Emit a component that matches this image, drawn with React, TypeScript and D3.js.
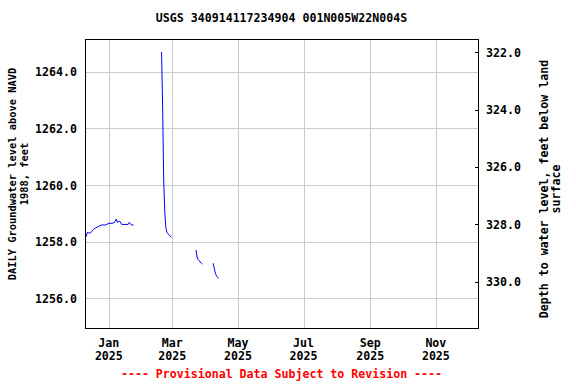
import React from "react";
import * as d3 from "d3";

const titleText = "USGS 340914117234904 001N005W22N004S";
const footerText = "---- Provisional Data Subject to Revision ----";
const leftTitle1 = "DAILY Groundwater level above NAVD";
const leftTitle2 = "1988, feet";
const rightTitle1 = "Depth to water level, feet below land";
const rightTitle2 = "surface";

const leftTicks = [1256, 1258, 1260, 1262, 1264];
const rightTicks = [322, 324, 326, 328, 330];
const monthTicks = ["2025-01-01", "2025-03-01", "2025-05-01", "2025-07-01", "2025-09-01", "2025-11-01"];
const monthLabels = ["Jan", "Mar", "May", "Jul", "Sep", "Nov"];
const yearLabels = ["2025", "2025", "2025", "2025", "2025", "2025"];

const seg1Dates = ["2024-12-11", "2024-12-12", "2024-12-14", "2024-12-16", "2024-12-17", "2024-12-19", "2024-12-22", "2024-12-25", "2024-12-29", "2025-01-01", "2025-01-04", "2025-01-06", "2025-01-08", "2025-01-09", "2025-01-11", "2025-01-13", "2025-01-16", "2025-01-19", "2025-01-20", "2025-01-22", "2025-01-24"];
const seg1Levels = [1258.18, 1258.33, 1258.30, 1258.35, 1258.41, 1258.47, 1258.53, 1258.59, 1258.59, 1258.65, 1258.65, 1258.67, 1258.80, 1258.68, 1258.73, 1258.61, 1258.61, 1258.61, 1258.68, 1258.59, 1258.59];

const seg2Dates = ["2025-02-19", "2025-02-20", "2025-02-21", "2025-02-22", "2025-02-23", "2025-02-24", "2025-02-25", "2025-02-26", "2025-02-27", "2025-02-28"];
const seg2Levels = [1264.70, 1262.75, 1260.15, 1259.05, 1258.50, 1258.33, 1258.28, 1258.24, 1258.20, 1258.15];

const seg3Dates = ["2025-03-23", "2025-03-24", "2025-03-25", "2025-03-26", "2025-03-27", "2025-03-28", "2025-03-29"];
const seg3Levels = [1257.71, 1257.46, 1257.37, 1257.33, 1257.28, 1257.24, 1257.21];

const seg4Dates = ["2025-04-08", "2025-04-09", "2025-04-10", "2025-04-11", "2025-04-12", "2025-04-13"];
const seg4Levels = [1257.24, 1257.05, 1256.89, 1256.80, 1256.75, 1256.70];

const segments = [
  [seg1Dates, seg1Levels],
  [seg2Dates, seg2Levels],
  [seg3Dates, seg3Levels],
  [seg4Dates, seg4Levels],
];

const W = 576;
const H = 384;
const L = 85;
const R = 478;
const T = 39;
const B = 328;
const FONT = "'DejaVu Sans Mono', 'Liberation Mono', monospace";
const FS = 11.6;

const parse = (s: string) => {
  const [y, m, d] = s.split("-").map(Number);
  return new Date(y, m - 1, d, 12);
};

export default function App() {
  const x = d3
    .scaleTime()
    .domain([new Date(2024, 11, 10, 8), new Date(2025, 11, 10, 16)])
    .range([L, R]);
  const yL = d3.scaleLinear().domain([1254.954, 1265.154]).range([B, T]);
  const yR = d3.scaleLinear().domain([321.536, 331.615]).range([T, B]);

  const line = d3
    .line<[Date, number]>()
    .x((d) => x(d[0]))
    .y((d) => yL(d[1]));

  const cx = (L + R) / 2;
  const cy = 174;
  const cyR = 189;

  return (
    <svg
      width={W}
      height={H}
      style={{ position: "absolute", left: 0, top: 0, background: "#fff" }}
      fontFamily={FONT}
      fontWeight="bold"
      fontSize={FS}
    >
      <rect x={0} y={0} width={W} height={H} fill="#fff" />
      <text x={cx} y={22} textAnchor="middle" fill="#000">
        {titleText}
      </text>
      <g stroke="#cccccc" strokeWidth={1} shapeRendering="crispEdges">
        {leftTicks.map((t) => (
          <line key={"h" + t} x1={L} x2={R} y1={Math.round(yL(t)) + 0.5} y2={Math.round(yL(t)) + 0.5} />
        ))}
        {monthTicks.map((m) => (
          <line key={"v" + m} x1={Math.round(x(parse(m))) + 0.5} x2={Math.round(x(parse(m))) + 0.5} y1={T} y2={B} />
        ))}
      </g>
      <g fill="none" stroke="#0000ff" strokeWidth={1}>
        {segments.map(([ds, vs], i) => {
          const pts = (ds as string[]).map((d, j) => [parse(d), (vs as number[])[j]] as [Date, number]);
          return <path key={i} d={line(pts) || ""} />;
        })}
      </g>
      <rect x={L + 0.5} y={T + 0.5} width={R - L} height={B - T} fill="none" stroke="#000" strokeWidth={1} shapeRendering="crispEdges" />
      <g stroke="#000" strokeWidth={1} shapeRendering="crispEdges">
        {rightTicks.map((t) => (
          <line key={"rt" + t} x1={R - 3} x2={R} y1={Math.round(yR(t)) + 0.5} y2={Math.round(yR(t)) + 0.5} />
        ))}
      </g>
      {leftTicks.map((t) => (
        <text key={"lt" + t} x={77} y={yL(t) + 4.5} textAnchor="end" fill="#000">
          {d3.format(".1f")(t)}
        </text>
      ))}
      {rightTicks.map((t) => (
        <text key={"rl" + t} x={486} y={yR(t) + 4.5} textAnchor="start" fill="#000">
          {d3.format(".1f")(t)}
        </text>
      ))}
      {monthTicks.map((m, i) => (
        <g key={"xl" + m}>
          <text x={x(parse(m))} y={347} textAnchor="middle" fill="#000">
            {monthLabels[i]}
          </text>
          <text x={x(parse(m))} y={360} textAnchor="middle" fill="#000">
            {yearLabels[i]}
          </text>
        </g>
      ))}
      <text transform={`translate(15.5,${cy}) rotate(-90)`} textAnchor="middle" fill="#000" fontSize={10.4}>
        {leftTitle1}
      </text>
      <text transform={`translate(28,${cy}) rotate(-90)`} textAnchor="middle" fill="#000" fontSize={10.4}>
        {leftTitle2}
      </text>
      <text transform={`translate(547.5,${cyR}) rotate(-90)`} textAnchor="middle" fill="#000">
        {rightTitle1}
      </text>
      <text transform={`translate(560,${cyR}) rotate(-90)`} textAnchor="middle" fill="#000">
        {rightTitle2}
      </text>
      <text x={cx} y={378} textAnchor="middle" fill="#ff0000">
        {footerText}
      </text>
    </svg>
  );
}
